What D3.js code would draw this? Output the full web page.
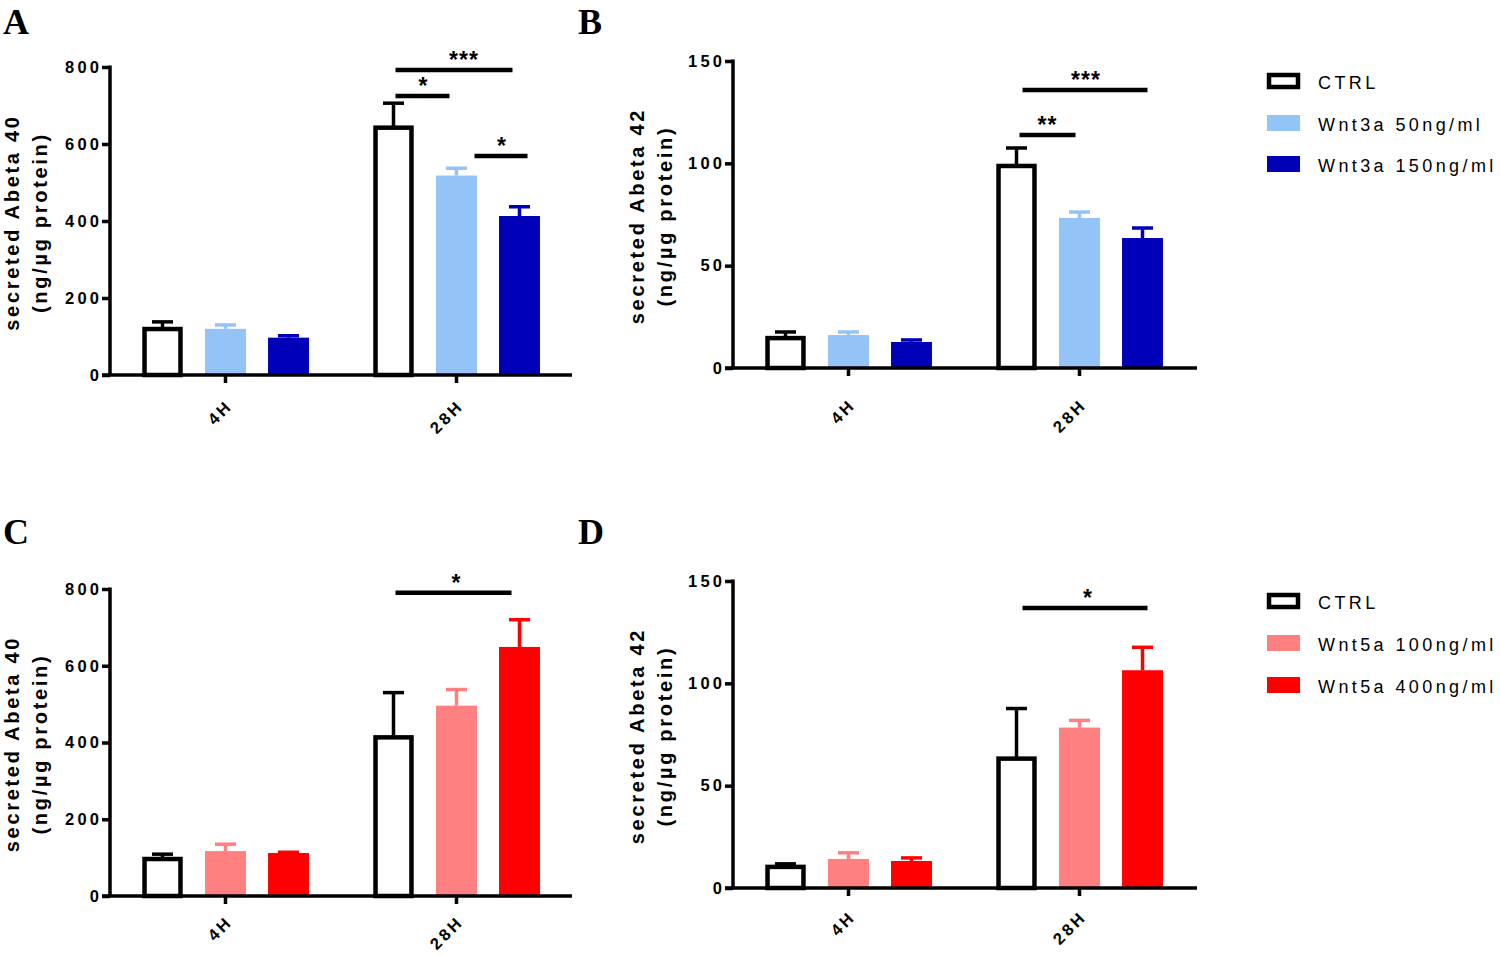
<!DOCTYPE html>
<html>
<head>
<meta charset="utf-8">
<script src="https://cdn.jsdelivr.net/npm/d3@7"></script>
<style>
  html, body { margin: 0; padding: 0; background: #fff; }
  svg { display: block; }
</style>
</head>
<body>
<svg id="chart" width="1500" height="955"></svg>
<script>
// ---------------- DATA ----------------
const groups = ["4H", "28H"];
const seriesWnt3a = ["CTRL", "Wnt3a 50ng/ml", "Wnt3a 150ng/ml"];
const seriesWnt5a = ["CTRL", "Wnt5a 100ng/ml", "Wnt5a 400ng/ml"];
const colorsWnt3a = ["#ffffff", "#93c3f7", "#0000b8"];
const colorsWnt5a = ["#ffffff", "#ff8080", "#ff0000"];

// mean values per group [4H, 28H], each [CTRL, low, high]
const abeta40Wnt3aMean = [[122, 120, 97], [645, 518, 413]];
const abeta40Wnt3aSem  = [[16, 10, 5], [61, 19, 24]];
const abeta42Wnt3aMean = [[15.1, 16.1, 12.7], [99.2, 73.3, 63.5]];
const abeta42Wnt3aSem  = [[2.5, 1.5, 1.0], [8.3, 2.9, 4.9]];
const abeta40Wnt5aMean = [[99, 117, 112], [416, 496, 649]];
const abeta40Wnt5aSem  = [[10, 18, 2], [114, 42, 71]];
const abeta42Wnt5aMean = [[10.8, 14.2, 13.2], [63.7, 78.4, 106.4]];
const abeta42Wnt5aSem  = [[1.0, 3.0, 1.5], [24, 3.5, 11.2]];

const ticks40 = [0, 200, 400, 600, 800];
const ticks42 = [0, 50, 100, 150];

// significance: [group, fromSeries, toSeries, level (data units), label]
const sigA = [["28H", 0, 2, 792, "***"], ["28H", 0, 1, 725, "*"], ["28H", 1, 2, 569, "*"]];
const sigB = [["28H", 0, 2, 135.8, "***"], ["28H", 0, 1, 113.8, "**"]];
const sigC = [["28H", 0, 2, 790, "*"]];
const sigD = [["28H", 0, 2, 136.8, "*"]];

// ---------------- LAYOUT ----------------
const panels = [
  { letter: "A", mean: abeta40Wnt3aMean, sem: abeta40Wnt3aSem, ticks: ticks40, max: 800,
    colors: colorsWnt3a, sig: sigA, ax: 110, top: 67, bottom: 375, xEnd: 572,
    title: ["secreted Abeta 40", "(ng/µg protein)"], tx: [19, 47], lx: 3, ly: 34, labOff: 34,
    sigLayout: [[2, -7, 9], [2, -7, 0], [18, 8, 0]] },
  { letter: "B", mean: abeta42Wnt3aMean, sem: abeta42Wnt3aSem, ticks: ticks42, max: 150,
    colors: colorsWnt3a, sig: sigB, ax: 733, top: 61, bottom: 368, xEnd: 1197,
    title: ["secreted Abeta 42", "(ng/µg protein)"], tx: [644, 672], lx: 578, ly: 34, labOff: 40,
    sigLayout: [[6, 5, 0], [3, -4, -1]] },
  { letter: "C", mean: abeta40Wnt5aMean, sem: abeta40Wnt5aSem, ticks: ticks40, max: 800,
    colors: colorsWnt5a, sig: sigC, ax: 110, top: 589, bottom: 896, xEnd: 572,
    title: ["secreted Abeta 40", "(ng/µg protein)"], tx: [19, 47], lx: 3, ly: 544, labOff: 29,
    sigLayout: [[2, -8, 2]] },
  { letter: "D", mean: abeta42Wnt5aMean, sem: abeta42Wnt5aSem, ticks: ticks42, max: 150,
    colors: colorsWnt5a, sig: sigD, ax: 733, top: 581, bottom: 888, xEnd: 1197,
    title: ["secreted Abeta 42", "(ng/µg protein)"], tx: [644, 672], lx: 578, ly: 544, labOff: 32,
    sigLayout: [[6, 5, 2]] }
];

const legends = [
  { series: seriesWnt3a, colors: colorsWnt3a, y: [81, 123, 164] },
  { series: seriesWnt5a, colors: colorsWnt5a, y: [601, 643, 685] }
];

const svg = d3.select("#chart");
const SANS = "'Liberation Sans', Arial, sans-serif";
const SERIF = "'Liberation Serif', 'Times New Roman', serif";

panels.forEach(p => {
  const g = svg.append("g");
  const y = d3.scaleLinear().domain([0, p.max]).range([p.bottom, p.top]);
  const x0 = d3.scaleBand().domain(groups).range([p.ax, p.ax + 462]).padding(0);
  const x1 = d3.scaleBand().domain([0, 1, 2]).range([-94.5, 94.5]).paddingInner(0.35).paddingOuter(0.175);
  const bw = x1.bandwidth();
  const cx = (grp, s) => x0(grp) + x0.bandwidth() / 2 + x1(s) + bw / 2;

  // panel letter
  g.append("text").attr("x", p.lx).attr("y", p.ly)
    .attr("font-family", SERIF).attr("font-weight", "bold").attr("font-size", 36)
    .text(p.letter);

  // bars
  groups.forEach((grp, gi) => {
    p.mean[gi].forEach((v, si) => {
      const left = cx(grp, si) - bw / 2;
      const col = p.colors[si];
      const isCtrl = si === 0;
      const errCol = isCtrl ? "#000" : col;
      const top = y(v + p.sem[gi][si]);
      g.append("line").attr("x1", cx(grp, si)).attr("x2", cx(grp, si))
        .attr("y1", y(v)).attr("y2", top)
        .attr("stroke", errCol).attr("stroke-width", 3.5);
      g.append("line").attr("x1", cx(grp, si) - 10.5).attr("x2", cx(grp, si) + 10.5)
        .attr("y1", top).attr("y2", top)
        .attr("stroke", errCol).attr("stroke-width", 3.5);
      if (isCtrl) {
        g.append("rect").attr("x", left + 2.5).attr("width", bw - 5)
          .attr("y", y(v) + 1).attr("height", p.bottom - y(v) - 1)
          .attr("fill", "#fff").attr("stroke", "#000").attr("stroke-width", 4.5);
      } else {
        g.append("rect").attr("x", left).attr("width", bw)
          .attr("y", y(v)).attr("height", p.bottom - y(v))
          .attr("fill", col);
      }
    });
  });

  // y axis
  const yAxis = g.append("g").attr("transform", `translate(${p.ax},0)`)
    .call(d3.axisLeft(y).tickValues(p.ticks).tickSize(8).tickSizeOuter(0).tickPadding(3));
  yAxis.select(".domain").attr("stroke-width", 3.5).attr("d", `M0,${p.top - 1.5}V${p.bottom}`);
  yAxis.selectAll(".tick line").attr("stroke-width", 3.5);
  yAxis.selectAll(".tick text")
    .attr("font-family", SANS).attr("font-weight", "bold").attr("font-size", 16.5)
    .attr("letter-spacing", 3.2).attr("dx", 3.2).attr("fill", "#000");

  // x axis
  const xAxis = g.append("g").attr("transform", `translate(0,${p.bottom})`)
    .call(d3.axisBottom(x0).tickSize(8).tickSizeOuter(0).tickFormat(""));
  xAxis.select(".domain").attr("stroke-width", 3.5).attr("d", `M${p.ax - 8},0H${p.xEnd}`);
  xAxis.selectAll(".tick line").attr("stroke-width", 3.5);
  groups.forEach(grp => {
    const tx = x0(grp) + x0.bandwidth() / 2;
    g.append("text")
      .attr("transform", `translate(${tx + 6},${p.bottom + p.labOff}) rotate(-45)`)
      .attr("text-anchor", "end").attr("dx", 3)
      .attr("font-family", SANS).attr("font-weight", "bold").attr("font-size", 16.5)
      .attr("letter-spacing", 3)
      .text(grp);
  });

  // y title
  const cy = (p.top + p.bottom) / 2 + 3;
  p.title.forEach((t, i) => {
    g.append("text")
      .attr("transform", `translate(${p.tx[i]},${cy}) rotate(-90)`)
      .attr("text-anchor", "middle").attr("dx", 1.4)
      .attr("font-family", SANS).attr("font-weight", "bold").attr("font-size", 20)
      .attr("letter-spacing", 2.7)
      .text(t);
  });

  // significance
  p.sig.forEach((s, i) => {
    const [grp, a, b, lvl, lab] = s;
    const [d1, d2, dt] = p.sigLayout[i];
    const xa = cx(grp, a) + d1, xb = cx(grp, b) + d2;
    const ly = y(lvl);
    g.append("line").attr("x1", xa).attr("x2", xb).attr("y1", ly).attr("y2", ly)
      .attr("stroke", "#000").attr("stroke-width", 4.5);
    g.append("text").attr("x", (xa + xb) / 2 + dt).attr("y", ly - 2)
      .attr("text-anchor", "middle").attr("dx", 1)
      .attr("font-family", SANS).attr("font-weight", "bold").attr("font-size", 23)
      .attr("letter-spacing", 1)
      .text(lab);
  });
});

// legends
legends.forEach(L => {
  const g = svg.append("g");
  L.series.forEach((s, i) => {
    const yc = L.y[i];
    if (i === 0) {
      g.append("rect").attr("x", 1269).attr("y", yc - 6).attr("width", 29).attr("height", 12)
        .attr("fill", "#fff").attr("stroke", "#000").attr("stroke-width", 4.5);
    } else {
      g.append("rect").attr("x", 1267).attr("y", yc - 8).attr("width", 33).attr("height", 16)
        .attr("fill", L.colors[i]);
    }
    g.append("text").attr("x", 1318).attr("y", yc + 8)
      .attr("font-family", SANS).attr("font-size", 18).attr("letter-spacing", 3.4)
      .text(s);
  });
});
</script>
</body>
</html>
